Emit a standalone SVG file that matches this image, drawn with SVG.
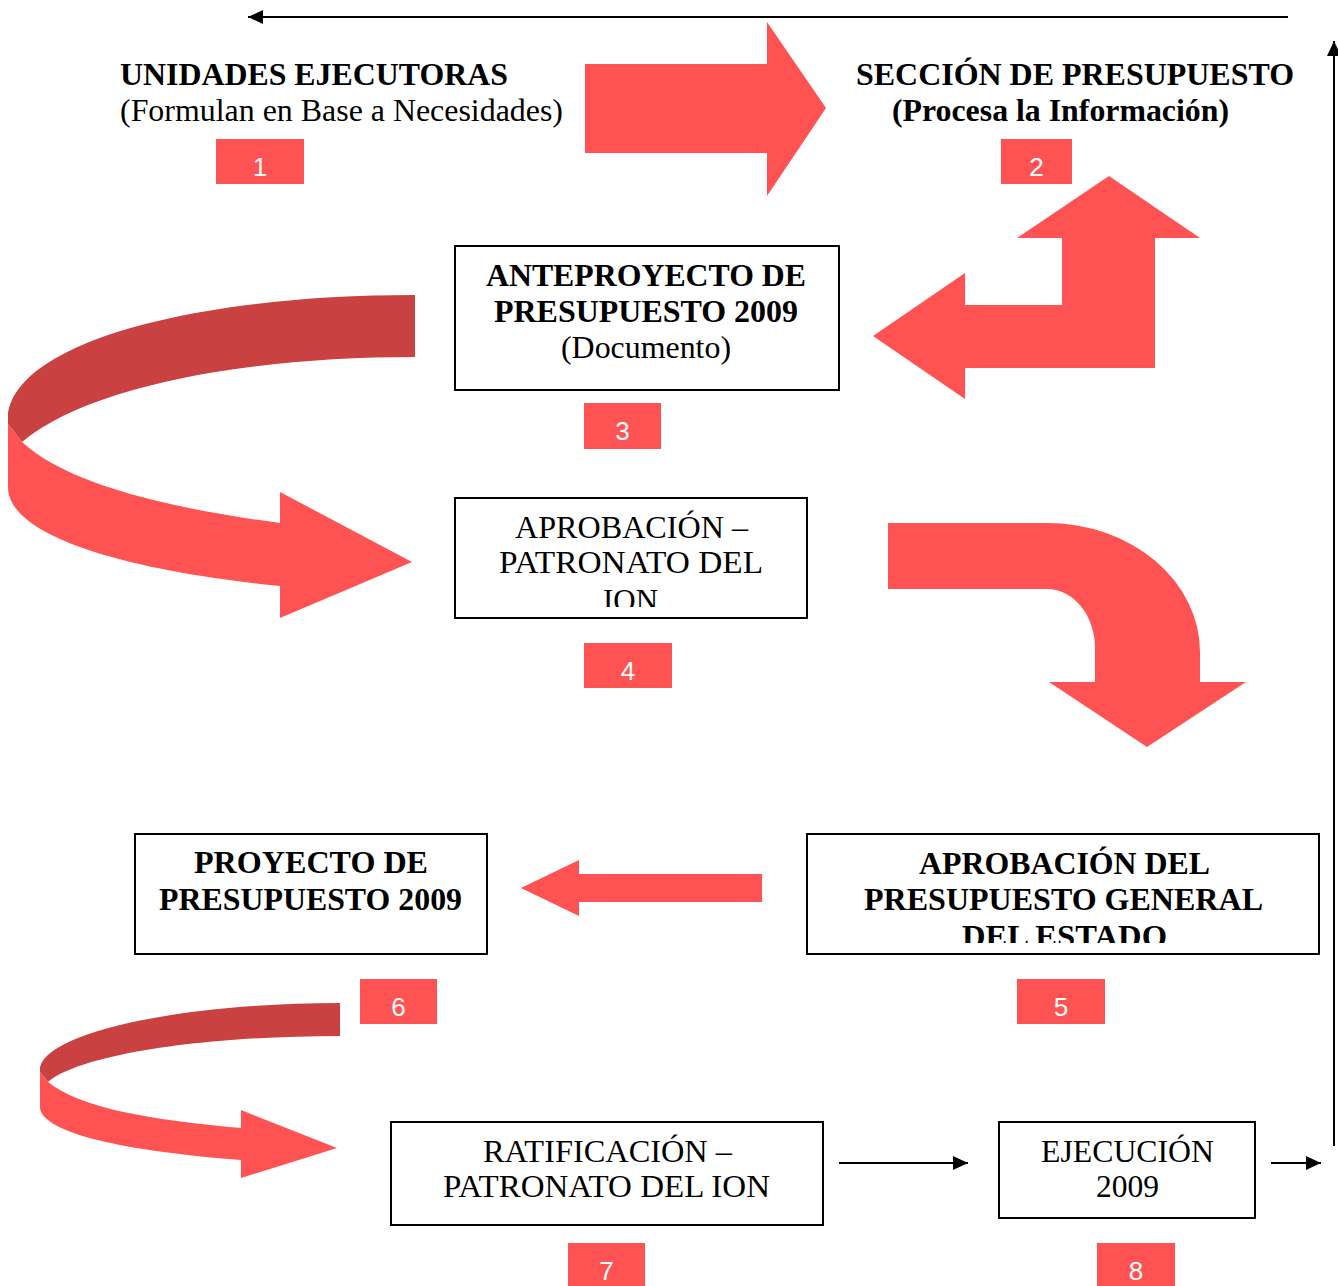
<svg xmlns="http://www.w3.org/2000/svg" width="1338" height="1286" viewBox="0 0 1338 1286">
<style>
.t{font-family:"Liberation Serif","Times New Roman",serif;font-size:32px;fill:#000}
.b{font-weight:bold}
.box{fill:#fff;stroke:#000;stroke-width:2}
.num{fill:#FF5252}
.nt{font-family:"Liberation Sans",Arial,sans-serif;font-size:26px;fill:#fff;text-anchor:middle}
.red{fill:#FF5252}
.dark{fill:#C94141}
.ln{stroke:#000;stroke-width:2;fill:none;marker-end:url(#ah)}
</style>
<defs>
<marker id="ah" markerUnits="userSpaceOnUse" markerWidth="16" markerHeight="14" refX="15" refY="7" orient="auto"><path d="M0,0 L15,7 L0,14 Z" fill="#000"/></marker>
<clipPath id="c4"><rect x="455" y="498" width="352" height="109"/></clipPath>
<clipPath id="c5"><rect x="807" y="834" width="512" height="109"/></clipPath>
</defs>
<g id="connectors">
<line class="ln" x1="1288" y1="17" x2="248" y2="17"/>
<line class="ln" x1="1334" y1="1146" x2="1334" y2="41"/>
<line class="ln" x1="839" y1="1163" x2="968" y2="1163"/>
<line class="ln" x1="1271" y1="1163" x2="1321" y2="1163"/>
<polygon class="red" points="585,64 767,64 767,22 826,108 767,196 767,153 585,153"/>
<polygon class="red" points="1109,176 1200,238 1155,238 1155,368 965,368 965,399 873,336 965,273 965,305 1062,305 1062,238 1017,238"/>
<path class="red" d="M888,523 H1047 A153,129 0 0 1 1200,652 V682 H1246 L1147,747 L1049,682 H1095 V648 A48,59 0 0 0 1047,589 H888 Z"/>
<polygon class="red" points="762,874 579,874 579,860 521,888 579,916 579,902 762,902"/>
<path class="dark" d="M415,295 V357 C250,357 90,385 22,442 L8,424 L8,413 C20,340 200,295 415,295 Z"/>
<path class="red" d="M22,442 C65,482 160,507 280,523 V492 L412,562 L280,618 V586 C120,570 8,535 8,487 V424 Z"/>
<path class="dark" d="M340,1003 V1036 C200,1036 80,1055 48,1082 L40,1072 L40,1067 C50,1030 190,1003 340,1003 Z"/>
<path class="red" d="M48,1082 C80,1108 150,1120 241,1128 V1110 L337,1148 L241,1178 V1160 C110,1150 40,1130 40,1107 V1072 Z"/>
</g>
<g id="n1">
<text class="t b" x="120" y="85" textLength="388" lengthAdjust="spacingAndGlyphs">UNIDADES EJECUTORAS</text>
<text class="t" x="120" y="121" textLength="443" lengthAdjust="spacingAndGlyphs">(Formulan en Base a Necesidades)</text>
</g>
<g id="n2">
<text class="t b" x="856" y="85" textLength="438" lengthAdjust="spacingAndGlyphs">SECCIÓN DE PRESUPUESTO</text>
<text class="t b" x="892" y="121" textLength="337" lengthAdjust="spacingAndGlyphs">(Procesa la Información)</text>
</g>
<g id="n3">
<rect class="box" x="455" y="246" width="384" height="144"/>
<text class="t b" x="486" y="286" textLength="320" lengthAdjust="spacingAndGlyphs">ANTEPROYECTO DE</text>
<text class="t b" x="494" y="322" textLength="304" lengthAdjust="spacingAndGlyphs">PRESUPUESTO 2009</text>
<text class="t" x="561" y="358" textLength="170" lengthAdjust="spacingAndGlyphs">(Documento)</text>
</g>
<g id="n4">
<rect class="box" x="455" y="498" width="352" height="120"/>
<g clip-path="url(#c4)">
<text class="t" x="515" y="538" textLength="233" lengthAdjust="spacingAndGlyphs">APROBACIÓN –</text>
<text class="t" x="499" y="573" textLength="264" lengthAdjust="spacingAndGlyphs">PATRONATO DEL</text>
<text class="t" x="603" y="611" textLength="55" lengthAdjust="spacingAndGlyphs">ION</text>
</g>
</g>
<g id="n5">
<rect class="box" x="807" y="834" width="512" height="120"/>
<g clip-path="url(#c5)">
<text class="t b" x="919" y="874" textLength="291" lengthAdjust="spacingAndGlyphs">APROBACIÓN DEL</text>
<text class="t b" x="864" y="910" textLength="399" lengthAdjust="spacingAndGlyphs">PRESUPUESTO GENERAL</text>
<text class="t b" x="962" y="947" textLength="205" lengthAdjust="spacingAndGlyphs">DEL ESTADO</text>
</g>
</g>
<g id="n6">
<rect class="box" x="135" y="834" width="352" height="120"/>
<text class="t b" x="194" y="873" textLength="234" lengthAdjust="spacingAndGlyphs">PROYECTO DE</text>
<text class="t b" x="159" y="910" textLength="303" lengthAdjust="spacingAndGlyphs">PRESUPUESTO 2009</text>
</g>
<g id="n7">
<rect class="box" x="391" y="1122" width="432" height="103"/>
<text class="t" x="483" y="1162" textLength="249" lengthAdjust="spacingAndGlyphs">RATIFICACIÓN –</text>
<text class="t" x="443" y="1197" textLength="327" lengthAdjust="spacingAndGlyphs">PATRONATO DEL ION</text>
</g>
<g id="n8">
<rect class="box" x="999" y="1122" width="256" height="96"/>
<text class="t" x="1041" y="1162" textLength="173" lengthAdjust="spacingAndGlyphs">EJECUCIÓN</text>
<text class="t" x="1096" y="1197" textLength="63" lengthAdjust="spacingAndGlyphs">2009</text>
</g>
<g id="label1"><rect class="num" x="216" y="139" width="88" height="45"/><text class="nt" x="260" y="176">1</text></g>
<g id="label2"><rect class="num" x="1001" y="139" width="71" height="45"/><text class="nt" x="1036.5" y="176">2</text></g>
<g id="label3"><rect class="num" x="584" y="403" width="77" height="46"/><text class="nt" x="622.5" y="440">3</text></g>
<g id="label4"><rect class="num" x="584" y="643" width="88" height="45"/><text class="nt" x="628" y="680">4</text></g>
<g id="label5"><rect class="num" x="1017" y="979" width="88" height="45"/><text class="nt" x="1061" y="1016">5</text></g>
<g id="label6"><rect class="num" x="360" y="979" width="77" height="45"/><text class="nt" x="398.5" y="1016">6</text></g>
<g id="label7"><rect class="num" x="568" y="1243" width="77" height="43"/><text class="nt" x="606.5" y="1280">7</text></g>
<g id="label8"><rect class="num" x="1097" y="1243" width="78" height="43"/><text class="nt" x="1136" y="1280">8</text></g>
</svg>
